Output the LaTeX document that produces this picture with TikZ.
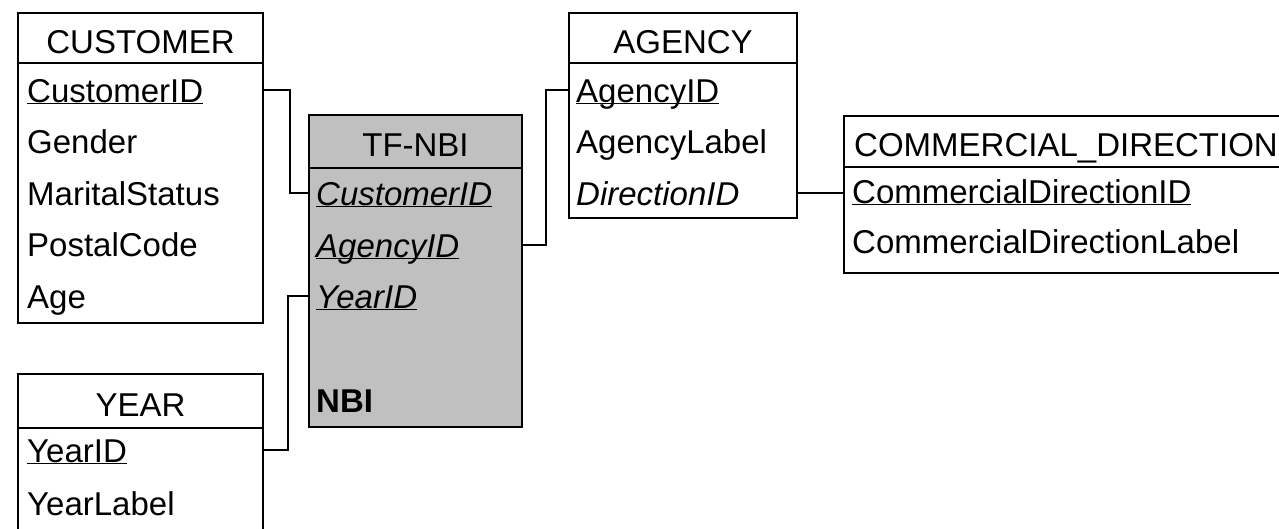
\documentclass[tikz,border=0pt]{standalone}
\usepackage{fontspec}
\setmainfont{Liberation Sans}
\usepackage{tikz}
\usetikzlibrary{positioning}
\definecolor{factgray}{RGB}{192,192,192}
\newcommand{\pk}[1]{\underline{\smash{#1}}}

\begin{document}
\begin{tikzpicture}[x=1pt,y=-1pt,every node/.style={font=\fontsize{33}{40}\selectfont},
  hdr/.style={draw,line width=2pt,anchor=north west,inner sep=0pt,minimum height=50pt,text height=30pt,text depth=0pt},
  tbl/.style={draw,line width=2pt,anchor=north west,inner sep=0pt},
  fld/.style={anchor=base west,inner sep=0pt,text height=24pt,text depth=0pt},
  link/.style={line width=2pt}]
  \fill[white] (0,0) rectangle (1279,528);
  \useasboundingbox (0,0) rectangle (1279,528);
  \clip (0,0) rectangle (1279,528);

  \node[hdr,minimum width=245pt] (cust) at (17,12) {CUSTOMER};
  \node[tbl,minimum width=245pt,minimum height=260pt] (custbox) at (17,62) {};
  \node[fld] (cid) at (27,102) {\pk{CustomerID}};
  \node[fld] (cgen) at (27,153) {Gender};
  \node[fld] (cmar) at (27,205) {MaritalStatus};
  \node[fld] (cpost) at (27,256) {PostalCode};
  \node[fld] (cage) at (27,308) {Age};

  \node[hdr,minimum width=245pt,minimum height=54pt] (year) at (17,373) {YEAR};
  \node[tbl,minimum width=245pt,minimum height=120pt] (yearbox) at (17,427) {};
  \node[fld] (yid) at (27,462) {\pk{YearID}};
  \node[fld] (ylab) at (27,515) {YearLabel};

  \node[hdr,fill=factgray,minimum width=213pt,minimum height=53pt] (tf) at (308,114) {TF-NBI};
  \node[tbl,fill=factgray,minimum width=213pt,minimum height=259pt] (tfbox) at (308,167) {};
  \node[fld] (tcid) at (316,205) {\pk{\textit{CustomerID}}};
  \node[fld] (tagid) at (316,257) {\pk{\textit{AgencyID}}};
  \node[fld] (tyid) at (316,308) {\pk{\textit{YearID}}};
  \node[fld] (tnbi) at (316,412) {\textbf{NBI}};

  \node[hdr,minimum width=228pt] (agency) at (568,12) {AGENCY};
  \node[tbl,minimum width=228pt,minimum height=155pt] (agencybox) at (568,62) {};
  \node[fld] (aid) at (576,102) {\pk{AgencyID}};
  \node[fld] (alab) at (576,153) {AgencyLabel};
  \node[fld] (adir) at (576,205) {\textit{DirectionID}};

  \node[hdr,minimum width=444pt,minimum height=51pt] (cdir) at (843,115) {COMMERCIAL\_DIRECTION};
  \node[tbl,minimum width=444pt,minimum height=106pt] (cdirbox) at (843,166) {};
  \node[fld] (cdid) at (852,203) {\pk{CommercialDirectionID}};
  \node[fld] (cdlab) at (852,253) {CommercialDirectionLabel};

  \draw[link] (custbox.east |- cid) -- ++(26,0) |- (tfbox.west |- tcid);
  \draw[link] (tfbox.east |- tagid) -- ++(23,0) |- (agencybox.west |- aid);
  \draw[link] (tfbox.west |- tyid) -- ++(-20,0) |- (yearbox.east |- yid);
  \draw[link] (agencybox.east |- adir) -- (cdirbox.west |- adir);
\end{tikzpicture}
\end{document}
